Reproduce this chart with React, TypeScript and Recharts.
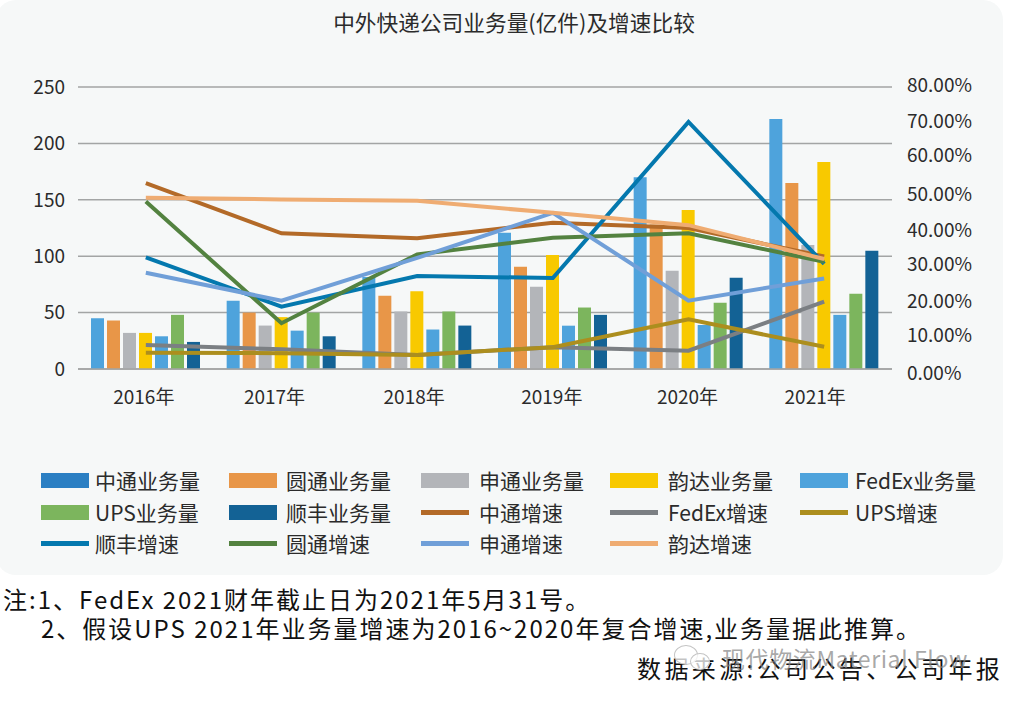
import { Bar, CartesianGrid, ComposedChart, Legend, Line, XAxis, YAxis } from "recharts";

const years = ["2016年", "2017年", "2018年", "2019年", "2020年", "2021年"];
const leftTicks = [0, 50, 100, 150, 200, 250];
const rightTicks = [0, 10, 20, 30, 40, 50, 60, 70, 80];

// volume, 亿件
const ztoVolume = [45, 60.5, 81.5, 120.7, 170, 221.6];
const ytoVolume = [43, 50, 65, 90.6, 128, 165];
const stoVolume = [32, 38.5, 51, 73, 87, 110];
const yundaVolume = [32, 46, 69, 101, 141, 183.6];
const fedexVolume = [29, 34, 35, 38.4, 39, 48];
const upsVolume = [48, 50, 51, 54.5, 58.7, 66.7];
const sfVolume = [24, 29, 38.5, 48, 81, 104.8];

// growth, %
const ztoGrowth = [52.7, 38.5, 37.1, 41.5, 40, 31.9];
const fedexGrowth = [6.8, 5.6, 4, 6.2, 5.2, 19.1];
const upsGrowth = [4.6, 4.5, 4, 6.2, 14.1, 6.3];
const sfGrowth = [31.7, 17.7, 26.4, 25.8, 70.1, 29.8];
const ytoGrowth = [47.5, 13, 32.5, 37.2, 38.5, 30.4];
const stoGrowth = [27.3, 19.4, 31.5, 44.3, 19.4, 25.7];
const yundaGrowth = [48.6, 48.1, 47.7, 44.3, 40.8, 31.2];

const data = years.map((year, i) => ({
  year,
  ztoVolume: ztoVolume[i],
  ytoVolume: ytoVolume[i],
  stoVolume: stoVolume[i],
  yundaVolume: yundaVolume[i],
  fedexVolume: fedexVolume[i],
  upsVolume: upsVolume[i],
  sfVolume: sfVolume[i],
  ztoGrowth: ztoGrowth[i],
  fedexGrowth: fedexGrowth[i],
  upsGrowth: upsGrowth[i],
  sfGrowth: sfGrowth[i],
  ytoGrowth: ytoGrowth[i],
  stoGrowth: stoGrowth[i],
  yundaGrowth: yundaGrowth[i],
}));

const font = '"Noto Sans CJK SC", "Noto Sans", sans-serif';
const ink = "#2b2b2b";

const legendCols = [41, 229, 421, 610, 800];
const legendRows = [480, 512, 543];
const legendTextX = [95, 286, 479, 668, 855];

function ChartLegend({ payload }: any) {
  return (
    <div style={{ position: "absolute", left: 0, top: 0 }}>
      {(payload ?? []).map((item: any, i: number) => {
        const col = i % 5;
        const row = Math.floor(i / 5);
        const isLine = item.type === "line";
        const swatchH = isLine ? 5 : 15;
        const color = item.value === "中通业务量" ? "#2b7fc3" : item.color;
        return (
          <div key={item.value}>
            <div
              style={{
                position: "absolute",
                left: legendCols[col],
                top: legendRows[row] - swatchH / 2,
                width: 48,
                height: swatchH,
                background: color,
              }}
            />
            <div
              style={{
                position: "absolute",
                left: legendTextX[col],
                top: legendRows[row] - 15,
                fontSize: 21,
                lineHeight: "30px",
                color: ink,
                whiteSpace: "nowrap",
              }}
            >
              {item.value}
            </div>
          </div>
        );
      })}
    </div>
  );
}

const xNudge = [-2, -7, -3, -1, -1, -9];
const rightNudge = [4, 1, 2, 1, 2, 1, -3, -1, -2];

function YearTick({ x, y, payload, index }: any) {
  return (
    <text x={x + xNudge[index]} y={y + 27} textAnchor="middle" fontSize={19} fill={ink} fontFamily={font}>
      {payload.value}
    </text>
  );
}

function RightTick({ x, y, payload, index }: any) {
  return (
    <text x={x + 7} y={y + rightNudge[index] + 7} fontSize={19} fill={ink} fontFamily={font}>
      {payload.value.toFixed(2)}%
    </text>
  );
}

function Note({ left, top, spacing = 2, children }: any) {
  return (
    <div
      style={{
        position: "absolute",
        left,
        top,
        fontSize: 24,
        letterSpacing: spacing,
        lineHeight: "26px",
        color: "#111",
        whiteSpace: "nowrap",
      }}
    >
      {children}
    </div>
  );
}

export default function App() {
  return (
    <div style={{ position: "absolute", left: 0, top: 0, width: 1009, height: 703, background: "#fff", fontFamily: font, overflow: "hidden" }}>
      <div style={{ position: "absolute", left: -4, top: 0, width: 1007, height: 575, background: "#f6f8f8", borderRadius: 20 }} />
      <div style={{ position: "absolute", left: 0, top: 7, width: 1028, textAlign: "center", fontSize: 21.7, lineHeight: "30px", color: ink }}>
        中外快递公司业务量(亿件)及增速比较
      </div>
      <div style={{ position: "absolute", left: 0, top: 0 }}>
        <ComposedChart
          width={1009}
          height={703}
          data={data}
          barSize={13}
          barGap={3}
          margin={{ top: 87, right: 0, bottom: 304, left: 0 }}
          style={{ fontFamily: font }}
        >
          <CartesianGrid vertical={false} yAxisId="left" stroke="#a3a5a5" strokeWidth={1.5} />
          <XAxis dataKey="year" height={30} tick={<YearTick />} tickLine={false} axisLine={{ stroke: "#a3a5a5", strokeWidth: 1.5 }} interval={0} />
          <YAxis
            yAxisId="left"
            width={78}
            domain={[0, 250]}
            ticks={leftTicks}
            tickLine={false}
            axisLine={false}
            tickMargin={7}
            tick={{ fontSize: 19, fill: ink }}
          />
          <YAxis
            yAxisId="right"
            orientation="right"
            width={117}
            domain={[0, 80]}
            ticks={rightTicks}
            tickLine={false}
            axisLine={false}
            tick={<RightTick />}
          />
          <Bar yAxisId="left" dataKey="ztoVolume" name="中通业务量" fill="#4ea3dc" isAnimationActive={false} />
          <Bar yAxisId="left" dataKey="ytoVolume" name="圆通业务量" fill="#e89648" isAnimationActive={false} />
          <Bar yAxisId="left" dataKey="stoVolume" name="申通业务量" fill="#b3b5b9" isAnimationActive={false} />
          <Bar yAxisId="left" dataKey="yundaVolume" name="韵达业务量" fill="#f8c900" isAnimationActive={false} />
          <Bar yAxisId="left" dataKey="fedexVolume" name="FedEx业务量" fill="#4ea3dc" isAnimationActive={false} />
          <Bar yAxisId="left" dataKey="upsVolume" name="UPS业务量" fill="#7cb55d" isAnimationActive={false} />
          <Bar yAxisId="left" dataKey="sfVolume" name="顺丰业务量" fill="#136295" isAnimationActive={false} />
          <Line yAxisId="right" dataKey="ztoGrowth" name="中通增速" stroke="#b36a28" strokeWidth={4} dot={false} legendType="line" isAnimationActive={false} />
          <Line yAxisId="right" dataKey="fedexGrowth" name="FedEx增速" stroke="#7b7f83" strokeWidth={4} dot={false} legendType="line" isAnimationActive={false} />
          <Line yAxisId="right" dataKey="upsGrowth" name="UPS增速" stroke="#ac8e1e" strokeWidth={4} dot={false} legendType="line" isAnimationActive={false} />
          <Line yAxisId="right" dataKey="sfGrowth" name="顺丰增速" stroke="#0478ae" strokeWidth={4} dot={false} legendType="line" isAnimationActive={false} />
          <Line yAxisId="right" dataKey="ytoGrowth" name="圆通增速" stroke="#538240" strokeWidth={4} dot={false} legendType="line" isAnimationActive={false} />
          <Line yAxisId="right" dataKey="stoGrowth" name="申通增速" stroke="#709fd8" strokeWidth={4} dot={false} legendType="line" isAnimationActive={false} />
          <Line yAxisId="right" dataKey="yundaGrowth" name="韵达增速" stroke="#efac72" strokeWidth={4} dot={false} legendType="line" isAnimationActive={false} />
          <Legend
            content={<ChartLegend />}
            itemSorter={null}
            wrapperStyle={{ position: "absolute", left: 0, top: 0, width: 1009, height: 0, bottom: "auto" }}
          />
        </ComposedChart>
      </div>
      <Note left={3} top={586}>注:1、FedEx 2021财年截止日为2021年5月31号。</Note>
      <Note left={41} top={615}>2、假设UPS 2021年业务量增速为2016~2020年复合增速,业务量据此推算。</Note>
      <Note left={637} top={655} spacing={3.4}>数据来源:公司公告、公司年报</Note>
      {/* watermark sits on top of the source line */}
      <div style={{ position: "absolute", left: 674, top: 645, width: 22, height: 18, borderRadius: "50%", border: "1px solid #c4c4c4", background: "rgba(255,255,255,0.75)" }} />
      <div style={{ position: "absolute", left: 690, top: 653, width: 18, height: 15, borderRadius: "50%", border: "1px solid #c4c4c4", background: "rgba(255,255,255,0.75)" }} />
      <div style={{ position: "absolute", left: 722, top: 643, fontSize: 23, letterSpacing: 0.6, lineHeight: "30px", color: "rgba(130,130,130,0.7)", whiteSpace: "nowrap" }}>
        现代物流Material Flow
      </div>
    </div>
  );
}
